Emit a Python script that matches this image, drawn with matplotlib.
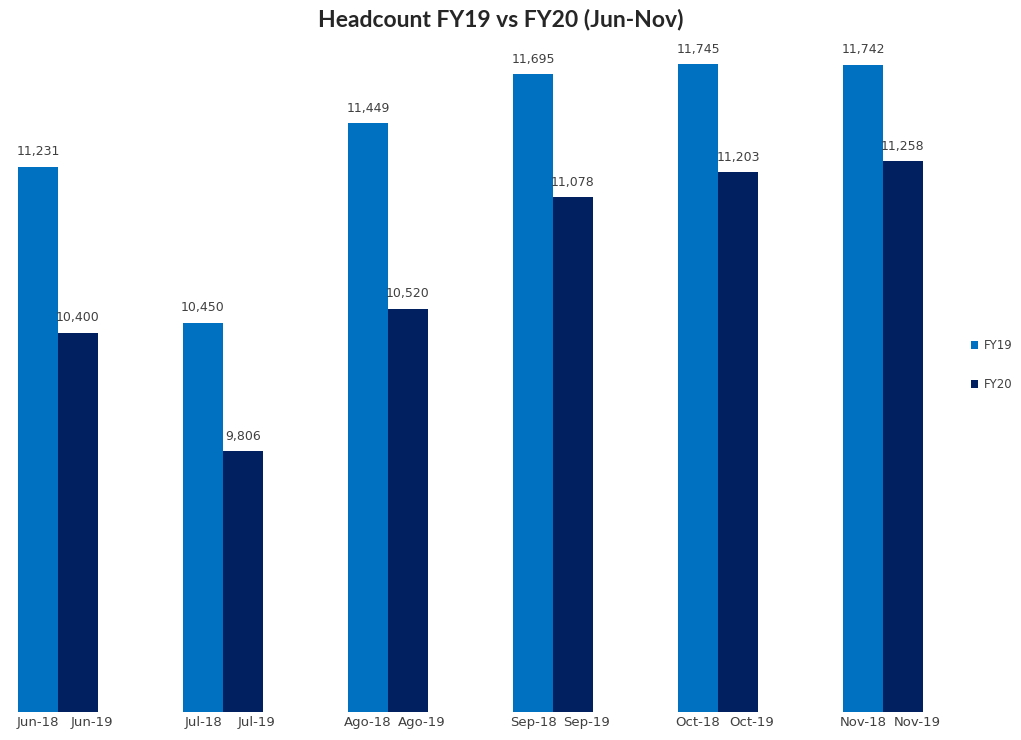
import matplotlib.pyplot as plt
import numpy as np

plt.rcParams['font.family'] = ['DejaVu Sans']

months = ['Jun', 'Jul', 'Ago', 'Sep', 'Oct', 'Nov']
fy19_labels = ['Jun-18', 'Jul-18', 'Ago-18', 'Sep-18', 'Oct-18', 'Nov-18']
fy20_labels = ['Jun-19', 'Jul-19', 'Ago-19', 'Sep-19', 'Oct-19', 'Nov-19']
fy19 = [11231, 10450, 11449, 11695, 11745, 11742]
fy20 = [10400, 9806, 10520, 11078, 11203, 11258]

c19 = '#0070C0'
c20 = '#002060'
txt = '#404040'

W, H = 1021, 740
fig = plt.figure(figsize=(W / 100, H / 100), dpi=100)
ax = fig.add_axes([0, (H - 712) / H, 950 / W, (712 - 13) / H])

x = np.arange(len(months))
w = 0.242
b1 = ax.bar(x - w / 2, fy19, w, color=c19, label='FY19')
b2 = ax.bar(x + w / 2, fy20, w, color=c20, label='FY20')

ax.set_ylim(8500, 12000)
ax.set_xlim(-58 / 165, (950 - 58) / 165)

for bars in (b1, b2):
    for r in bars:
        v = r.get_height()
        ax.annotate(f'{v:,.0f}', (r.get_x() + r.get_width() / 2, v),
                    xytext=(0, 6), textcoords='offset points',
                    ha='center', va='bottom', fontsize=9, color=txt)

# FY20 labels sit a little to the right of their bars, as in the original
ax.set_xticks(np.concatenate([x - w / 2, x + w / 2 + 0.085]))
ax.set_xticklabels(fy19_labels + fy20_labels, fontsize=9.5, color=txt)
ax.tick_params(axis='x', length=0, pad=3)
ax.set_yticks([])
for s in ax.spines.values():
    s.set_visible(False)

fig.text(501 / W, 1 - 19 / H, 'Headcount FY19 vs FY20 (Jun-Nov)',
         ha='center', va='center', fontsize=16.5, fontweight='bold',
         color='#262626', family=['Lato', 'DejaVu Sans'])

fig.legend(handles=[b1, b2], labels=['FY19', 'FY20'], loc='center left',
           bbox_to_anchor=(960 / W, 1 - 365 / H), frameon=False,
           handlelength=0.6, handleheight=0.6, handletextpad=0.5,
           labelspacing=2.2, fontsize=8.5, labelcolor=txt)

fig.savefig('out.png', dpi=100)
